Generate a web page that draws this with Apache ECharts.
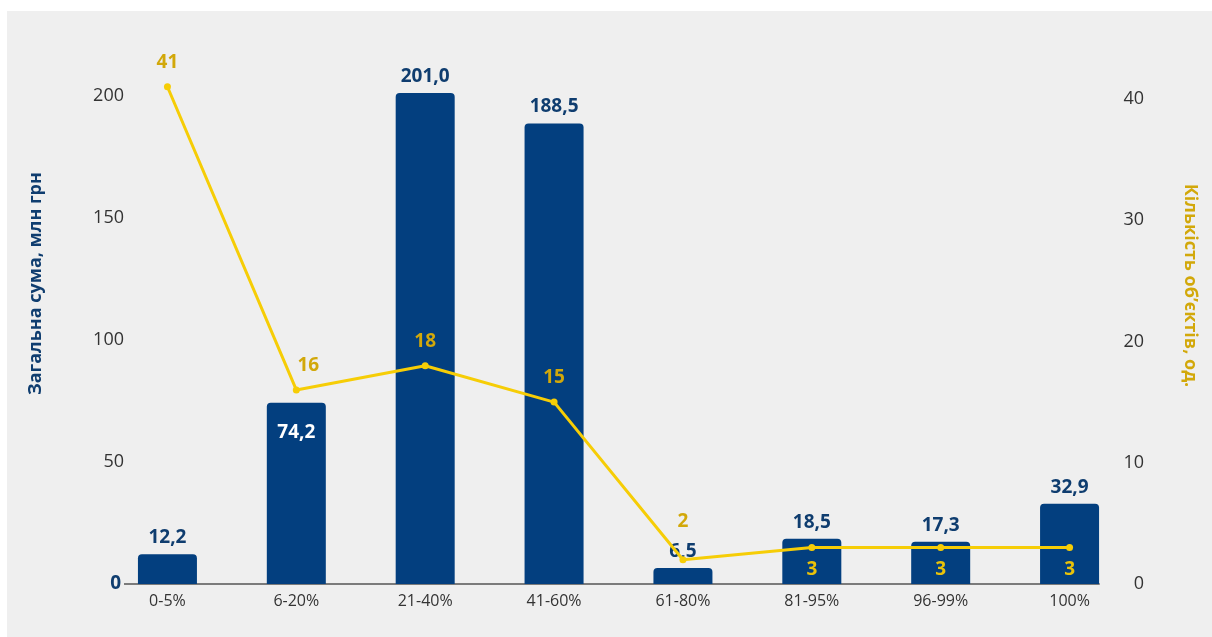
<!DOCTYPE html>
<html>
<head>
<meta charset="utf-8">
<script src="https://cdn.jsdelivr.net/npm/echarts@6/dist/echarts.min.js"></script>
<style>
  html, body { margin: 0; padding: 0; background: #ffffff; }
  #panel { position: absolute; left: 7px; top: 11px; width: 1205px; height: 626px; background: #efefef; }
  #chart { width: 1205px; height: 626px; }
</style>
</head>
<body>
<div id="panel"><div id="chart"></div></div>
<script>
// Share of completion groups: total sum (mln UAH) and number of objects
const categories = ['0-5%', '6-20%', '21-40%', '41-60%', '61-80%', '81-95%', '96-99%', '100%'];
const amounts = [12.2, 74.2, 201.0, 188.5, 6.5, 18.5, 17.3, 32.9];
const counts = [41, 16, 18, 15, 2, 3, 3, 3];
const leftTicks = { min: 0, max: 210, interval: 50 };
const rightTicks = { min: 0, max: 42.3, interval: 10 };

const BG = '#efefef';
const BLUE = '#033f7f';
const BLUE_TEXT = '#0f3d6f';
const YELLOW = '#f6cd06';
const GOLD = '#d2a80a';
const FONT = '"Open Sans", "Noto Sans", sans-serif';

const fmt = v => v.toFixed(1).replace('.', ',');

const barData = amounts.map((v, i) => {
  const item = { value: v };
  if (i === 1) {
    item.label = { position: 'insideTop', distance: 20, color: '#ffffff' };
  }
  return item;
});

const lineData = counts.map((v, i) => {
  const item = { value: v };
  if (v === 3) {
    item.label = { position: 'bottom', distance: 9, color: '#e9c20a' };
  } else if (i === 1) {
    item.label = { offset: [12, 0] };
  } else if (i === 4) {
    item.label = { distance: 25 };
  }
  return item;
});

const chart = echarts.init(document.getElementById('chart'), null, { renderer: 'canvas' });
chart.setOption({
  backgroundColor: 'transparent',
  animation: false,
  textStyle: { fontFamily: FONT },
  grid: { left: 96, right: 78, top: 60, bottom: 53 },
  xAxis: {
    type: 'category',
    data: categories,
    axisTick: { show: false },
    axisLine: { lineStyle: { color: '#555555', width: 1.5 } },
    axisLabel: { color: '#333333', fontSize: 16, margin: 9, fontFamily: FONT }
  },
  yAxis: [
    {
      type: 'value',
      min: leftTicks.min, max: leftTicks.max, interval: leftTicks.interval,
      splitLine: { show: false },
      axisLine: { show: false },
      axisTick: { show: false },
      axisLabel: {
        showMaxLabel: false,
        align: 'right',
        margin: -21,
        color: '#333333',
        fontSize: 18,
        fontFamily: FONT,
        formatter: v => (v === 0 ? '{zero|0}' : String(v)),
        rich: {
          // the zero label sits on a panel-coloured plate so the baseline starts past it
          zero: {
            color: BLUE_TEXT, fontWeight: 'bold', fontSize: 19, fontFamily: FONT,
            backgroundColor: BG, padding: [0, 3, 0, 14]
          }
        }
      },
      name: 'Загальна сума, млн грн',
      nameLocation: 'middle',
      nameGap: 58,
      nameTextStyle: { color: BLUE_TEXT, fontWeight: 'bold', fontSize: 18, fontFamily: FONT, padding: [0, 0, 0, 88] }
    },
    {
      type: 'value',
      position: 'right',
      min: rightTicks.min, max: rightTicks.max, interval: rightTicks.interval,
      splitLine: { show: false },
      axisLine: { show: false },
      axisTick: { show: false },
      axisLabel: {
        showMaxLabel: false,
        align: 'right',
        margin: 10,
        color: '#333333',
        fontSize: 18,
        fontFamily: FONT,
        formatter: v => (v === 0 ? '{zero|0}' : String(v)),
        rich: {
          // plate trims the baseline at the right end, after the last bar
          zero: { color: '#333333', fontSize: 18, fontFamily: FONT, backgroundColor: BG, padding: [0, 0, 0, 34] }
        }
      },
      name: 'Кількість об\u2019єктів, од.',
      nameLocation: 'middle',
      nameRotate: -90,
      nameGap: 47,
      nameTextStyle: { color: GOLD, fontWeight: 'bold', fontSize: 18, fontFamily: FONT, padding: [0, 84, 0, 0] }
    }
  ],
  series: [
    {
      type: 'bar',
      data: barData,
      barWidth: 59,
      itemStyle: { color: BLUE, borderRadius: [4, 4, 0, 0] },
      label: {
        show: true,
        position: 'top',
        distance: 7,
        color: BLUE_TEXT,
        fontWeight: 'bold',
        fontSize: 19,
        fontFamily: FONT,
        formatter: p => fmt(p.value)
      },
      z: 2
    },
    {
      type: 'line',
      yAxisIndex: 1,
      data: lineData,
      symbol: 'circle',
      symbolSize: 7,
      lineStyle: { color: YELLOW, width: 3 },
      itemStyle: { color: YELLOW },
      label: {
        show: true,
        position: 'top',
        distance: 11,
        color: GOLD,
        fontWeight: 'bold',
        fontSize: 19,
        fontFamily: FONT
      },
      z: 3
    }
  ]
});
</script>
</body>
</html>
